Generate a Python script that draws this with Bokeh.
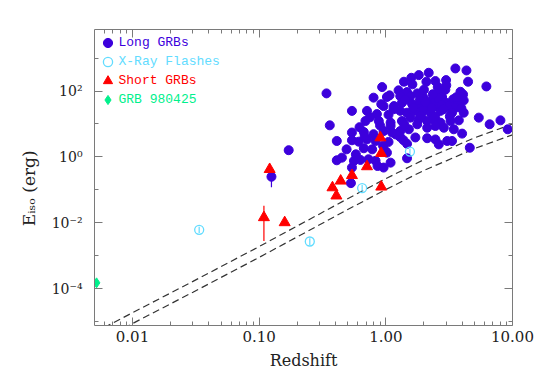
from bokeh.plotting import figure
from bokeh.models import (FixedTicker, CustomJSTickFormatter, LogAxis,
                          Legend, LegendItem)
from bokeh.embed import file_html
from bokeh.resources import INLINE

# ---------------- data ----------------
z_long = [3.54, 4.33, 2.18, 1.82, 1.59, 1.39, 2.09, 2.46, 2.99, 4.46, 0.935, 2.57, 6.22,
          1.26, 1.47, 1.77, 2.62, 3.88, 4.07, 1.07, 0.80, 1.02, 1.30, 1.56, 1.97, 2.78,
          3.40, 4.12, 2.25, 2.46, 2.99, 3.65, 0.96, 1.16, 1.34, 1.61, 1.82, 2.12, 2.54,
          3.14, 3.54, 0.54, 0.71, 0.85, 1.05, 1.30, 1.47, 1.71, 1.99, 2.25, 2.70, 3.33,
          4.12, 0.69, 0.88, 1.09, 1.34, 1.56, 1.82, 2.12, 2.39, 2.70, 3.24, 3.77, 5.42,
          0.361, 0.54, 0.67, 0.80, 0.96, 1.09, 1.30, 1.52, 1.77, 2.12, 2.46, 2.87, 3.44,
          0.41, 0.54, 0.61, 0.71, 0.83, 1.05, 1.30, 1.71, 2.12, 2.46, 3.05, 3.33, 2.62,
          4.0, 0.49, 0.67, 0.78, 0.99, 1.47, 0.41, 0.45, 0.56, 0.63, 0.73, 0.83, 1.09,
          1.47, 0.54, 0.86, 0.96, 1.02, 8.03, 6.6, 9.17, 4.6, 0.34, 0.171, 0.125, 0.53,
          0.62, 0.75, 0.92, 1.15, 1.42, 1.65, 1.90, 2.30, 2.60, 2.95, 3.20, 0.58, 0.68,
          0.90, 1.20, 1.40, 1.85, 2.00, 2.35, 2.75, 3.00, 3.60, 0.95, 1.12, 1.38, 1.62,
          2.05, 2.45, 2.85, 3.95]
e_long = [486, 423, 359, 305, 253, 192, 192, 201, 215, 192, 132, 132, 138,
          105, 93, 85, 89, 95, 79, 74, 63, 66, 70, 70, 66, 66,
          56, 52, 50, 52, 44, 39, 35, 35, 44, 41, 35, 35, 35,
          35, 31, 25, 25, 20, 19, 25, 22, 25, 26, 22, 25, 22,
          22, 12.3, 12.3, 11, 12.3, 15.6, 13.8, 12.3, 13.8, 11, 12.3, 12.9, 15.6,
          9.1, 5.5, 5.7, 4.9, 6.1, 8.7, 6.1, 6.9, 9.8, 7.7, 8.7, 7.7, 6.9,
          3.05, 3.2, 2.9, 3.4, 3.05, 2.85, 4.0, 3.9, 3.7, 3.4, 3.05, 3.05, 2.4,
          5.1, 1.7, 1.83, 1.7, 1.52, 2.5, 0.79, 0.95, 0.76, 0.81, 0.85, 0.76, 0.67,
          0.91, 0.475, 0.53, 0.475, 1.35, 12.9, 9.8, 6.9, 1.9, 85, 1.6, 0.25, 0.16,
          8.0, 16.0, 40.0, 28.0, 55.0, 31.0, 18.0, 30.0, 60.0, 110.0, 17.0, 1.2, 4.2,
          9.0, 4.8, 9.5, 52.0, 110.0, 80.0, 38.0, 150.0, 65.0, 2.2, 5.5, 3.2, 160.0,
          46.0, 17.0, 28.0, 30.0]
# long-GRB error bars
z_long_err = [0.125, 0.361]
e_long_lo = [0.12, 7.5]
e_long_hi = [0.30, 10.5]

z_short = [0.906, 0.918, 0.71, 0.54, 0.44, 0.379, 0.407, 0.92, 0.159, 0.121, 0.109]
e_short = [3.85, 1.29, 0.51, 0.275, 0.187, 0.117, 0.066, 0.123, 0.0102, 0.42, 0.0145]
z_short_err = [0.109]
e_short_lo = [0.0028]
e_short_hi = [0.033]

z_xrf = [0.0336, 0.251, 0.65, 1.55]
e_xrf = [0.0061, 0.0027, 0.113, 1.45]
e_xrf_lo = [0.0049, 0.0021, 0.09, 1.15]
e_xrf_hi = [0.0076, 0.0034, 0.14, 1.8]

z_980425 = [0.0052]
e_980425 = [1.5e-4]

z_thr = [0.005, 0.01, 0.03, 0.1, 0.3, 0.5, 1.0, 2.0, 3.0, 5.0, 10.0]
e_thr_hi = [4.6e-6, 1.86e-5, 1.66e-4, 1.9e-3, 0.0186, 0.054, 0.219, 0.83, 1.62, 3.8, 10.0]
e_thr_lo = [2.15e-6, 8.7e-6, 7.8e-5, 8.9e-4, 8.7e-3, 0.0253, 0.102, 0.39, 0.76, 1.78, 4.68]

x_major = [0.01, 0.1, 1.0, 10.0]
x_minor = [0.005, 0.006, 0.007, 0.008, 0.009,
           0.02, 0.03, 0.04, 0.05, 0.06, 0.07, 0.08, 0.09,
           0.2, 0.3, 0.4, 0.5, 0.6, 0.7, 0.8, 0.9,
           2, 3, 4, 5, 6, 7, 8, 9]
y_major = [1e-4, 1e-2, 1.0, 1e2]
y_minor = [1e-5, 1e-3, 1e-1, 1e1, 1e3]

BLUE = "#3c00dc"
CYAN = "#62dcff"
RED = "#ff0000"
GREEN = "#00f08c"
AX = "#7a7a7a"
TXT = "#222222"
SERIF = "DejaVu Serif"
MONO = "Liberation Mono"

p = figure(width=540, height=386, x_axis_type="log", y_axis_type="log",
           x_range=(0.00501, 10.0), y_range=(7.6e-6, 7.4e3),
           output_backend="svg", toolbar_location=None,
           min_border_left=94, min_border_right=28, min_border_top=29,
           min_border_bottom=61)
p.outline_line_color = None
p.xgrid.visible = False
p.ygrid.visible = False
p.background_fill_color = "white"
p.border_fill_color = "white"

xfmt = CustomJSTickFormatter(code="return tick.toFixed(2);")
yfmt = CustomJSTickFormatter(code="""
const sup = {'-':'\u207b','0':'\u2070','1':'\u00b9','2':'\u00b2','3':'\u00b3','4':'\u2074',
             '5':'\u2075','6':'\u2076','7':'\u2077','8':'\u2078','9':'\u2079'};
const e = Math.round(Math.log10(tick));
return '10' + String(e).split('').map(c => sup[c]).join('');
""")
blank = CustomJSTickFormatter(code="return '';")


def style_axis(ax):
    ax.axis_line_color = AX
    ax.major_tick_line_color = AX
    ax.minor_tick_line_color = AX
    ax.major_tick_in = 8
    ax.major_tick_out = 0
    ax.minor_tick_in = 4
    ax.minor_tick_out = 0
    ax.major_label_text_font = SERIF
    ax.major_label_text_font_size = "15px"
    ax.major_label_text_color = TXT
    ax.axis_label_text_font = SERIF
    ax.axis_label_text_font_style = "normal"
    ax.axis_label_text_font_size = "16px"
    ax.axis_label_text_color = TXT


xax = p.xaxis[0]
xax.ticker = FixedTicker(ticks=x_major, minor_ticks=x_minor)
xax.formatter = xfmt
xax.axis_label = "Redshift"
style_axis(xax)
xax.major_label_standoff = 5
xax.axis_label_standoff = 6

yax = p.yaxis[0]
yax.ticker = FixedTicker(ticks=y_major, minor_ticks=y_minor)
yax.formatter = yfmt
style_axis(yax)
yax.major_label_text_font_size = "14px"
yax.major_label_standoff = 12
# E_iso (erg); trailing no-break spaces move the title down to where the original has it
yax.axis_label = "E\u1d62\u209b\u2092 (erg)" + "\u00a0" * 4
yax.axis_label_text_font_size = "17px"
yax.axis_label_standoff = 10

top = LogAxis(ticker=FixedTicker(ticks=x_major, minor_ticks=x_minor), formatter=blank)
style_axis(top)
top.major_label_standoff = 0
p.add_layout(top, "above")
right = LogAxis(ticker=FixedTicker(ticks=y_major, minor_ticks=y_minor), formatter=blank)
style_axis(right)
right.major_label_standoff = 0
p.add_layout(right, "right")

# threshold curves
p.line(z_thr, e_thr_hi, line_color="#333333", line_width=1.2, line_dash="7 4")
p.line(z_thr, e_thr_lo, line_color="#333333", line_width=1.2, line_dash="7 4")

# error bars
p.segment(x0=z_long_err, y0=e_long_lo, x1=z_long_err, y1=e_long_hi, line_color=BLUE, line_width=1.2)
p.segment(x0=z_short_err, y0=e_short_lo, x1=z_short_err, y1=e_short_hi, line_color=RED, line_width=1.2)
p.segment(x0=z_xrf, y0=e_xrf_lo, x1=z_xrf, y1=e_xrf_hi, line_color=CYAN, line_width=1.2)

r_long = p.scatter(z_long, e_long, marker="circle", size=9, fill_color=BLUE, line_color=BLUE)
r_xrf = p.scatter(z_xrf, e_xrf, marker="circle", size=9, fill_color=None, line_color=CYAN, line_width=1.3)
r_short = p.scatter(z_short, e_short, marker="triangle", size=11, fill_color=RED, line_color=RED)
r_980 = p.scatter(z_980425, e_980425, marker="diamond", size=10, fill_color=GREEN, line_color=GREEN)

# legends: one per entry so that each label keeps its own colour
entries = [("Long GRBs", r_long, BLUE, 271),
           ("X-Ray Flashes", r_xrf, CYAN, 252),
           ("Short GRBs", r_short, RED, 233),
           ("GRB 980425", r_980, GREEN, 214)]
for lab, rr, col, vy in entries:
    lg = Legend(items=[LegendItem(label=lab, renderers=[rr])], location=(1.5, vy),
                orientation="vertical", padding=0, margin=0, spacing=0,
                glyph_width=23, glyph_height=23, label_standoff=0,
                label_text_font=MONO, label_text_font_size="13px",
                label_text_color=col, border_line_color=None,
                background_fill_alpha=0)
    p.add_layout(lg, "center")

open("out.html", "w").write(file_html(p, INLINE))
